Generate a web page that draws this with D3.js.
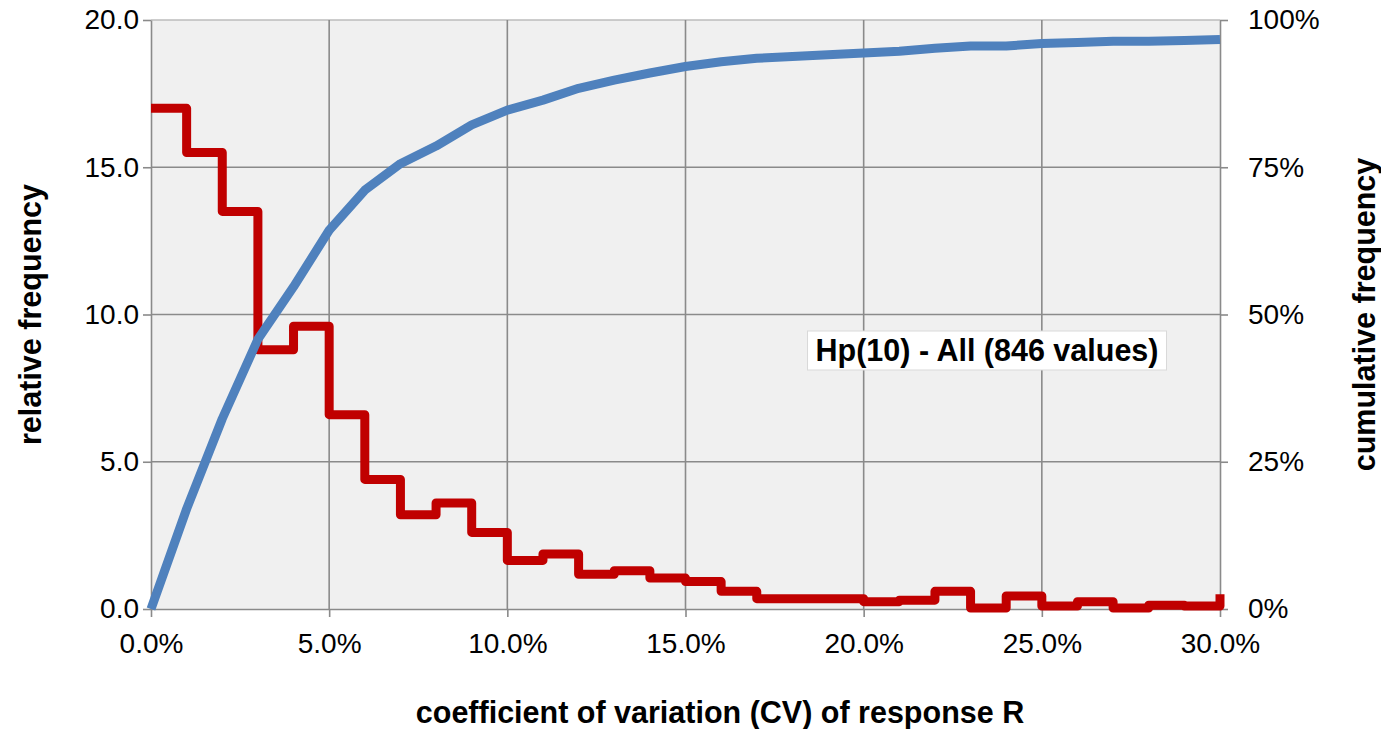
<!DOCTYPE html>
<html>
<head>
<meta charset="utf-8">
<script src="https://cdn.jsdelivr.net/npm/d3@7"></script>
<style>
  html, body { margin: 0; padding: 0; background: #ffffff; }
  svg { display: block; font-family: "Liberation Sans", Arial, sans-serif; }
</style>
</head>
<body>
<svg id="chart" width="1381" height="729"></svg>
<script>
// ---- data ----
const cvPercent = [0,1,2,3,4,5,6,7,8,9,10,11,12,13,14,15,16,17,18,19,20,21,22,23,24,25,26,27,28,29,30];
const relativeFrequency = [17.0,15.5,13.5,8.8,9.6,6.6,4.4,3.2,3.6,2.6,1.65,1.87,1.18,1.3,1.05,0.93,0.6,0.35,0.35,0.35,0.25,0.3,0.6,0.03,0.44,0.1,0.25,0.03,0.13,0.1,0.5];
const cumulativeFrequency = [0,17.0,32.3,45.8,54.7,64.3,71.1,75.6,78.6,82.2,84.7,86.4,88.4,89.8,91.0,92.1,92.9,93.5,93.8,94.1,94.4,94.7,95.2,95.6,95.6,96.0,96.2,96.4,96.4,96.5,96.7];
const xTicks = [0,5,10,15,20,25,30];
const yLeftTicks = [0,5,10,15,20];
const yRightTicks = [0,0.25,0.5,0.75,1];
const legendLabel = "Hp(10) - All (846 values)";
const xTitle = "coefficient of variation (CV) of response R";
const yLeftTitle = "relative frequency";
const yRightTitle = "cumulative frequency";

// ---- layout ----
const svg = d3.select("#chart");
const L = 151, R = 1220, T = 20, B = 609;
const x = d3.scaleLinear().domain([0,30]).range([L,R]);
const yL = d3.scaleLinear().domain([0,20]).range([B,T]);
const yR = d3.scaleLinear().domain([0,1]).range([B,T]);
const gridColor = "#8a8a8a";
const fs = 28;
const tfs = 30.5;

svg.append("rect").attr("x",L).attr("y",T).attr("width",R-L).attr("height",B-T).attr("fill","#f0f0f0");

// gridlines
svg.append("g").selectAll("line").data(yLeftTicks.filter(d=>d>0 && d<20)).join("line")
  .attr("x1",L).attr("x2",R).attr("y1",d=>yL(d)).attr("y2",d=>yL(d))
  .attr("stroke",gridColor).attr("stroke-width",1.6);
svg.append("line").attr("x1",L).attr("x2",R).attr("y1",T).attr("y2",T).attr("stroke","#bdbdbd").attr("stroke-width",1.6);
svg.append("g").selectAll("line").data(xTicks.filter(d=>d>0 && d<30)).join("line")
  .attr("x1",d=>x(d)).attr("x2",d=>x(d)).attr("y1",T).attr("y2",B)
  .attr("stroke",gridColor).attr("stroke-width",1.6);

// axes
function styleAxis(g){
  g.select(".domain").attr("stroke",gridColor).attr("stroke-width",1.6);
  g.selectAll(".tick line").attr("stroke",gridColor).attr("stroke-width",1.6);
  g.selectAll(".tick text").attr("font-size",fs).attr("fill","#000")
    .attr("font-family","'Liberation Sans', Arial, sans-serif");
}
svg.append("g").attr("transform",`translate(${L},0)`)
  .call(d3.axisLeft(yL).tickValues(yLeftTicks).tickFormat(d3.format(".1f")).tickSize(8).tickSizeOuter(0).tickPadding(4))
  .call(styleAxis);
svg.append("g").attr("transform",`translate(${R},0)`)
  .call(d3.axisRight(yR).tickValues(yRightTicks).tickFormat(d3.format(".0%")).tickSize(8).tickSizeOuter(0).tickPadding(20))
  .call(styleAxis);
svg.append("g").attr("transform",`translate(0,${B})`)
  .call(d3.axisBottom(x).tickValues(xTicks).tickFormat(d=>d.toFixed(1)+"%").tickSize(8).tickSizeOuter(0).tickPadding(16))
  .call(styleAxis);

// red step line (relative frequency)
const redLine = d3.line().x((d,i)=>x(cvPercent[i])).y(d=>yL(d)).curve(d3.curveStepAfter);
svg.append("path").datum(relativeFrequency).attr("d",redLine)
  .attr("fill","none").attr("stroke","#c00000").attr("stroke-width",9)
  .attr("stroke-linejoin","round").attr("stroke-linecap","butt");

// blue cumulative line
const blueLine = d3.line().x((d,i)=>x(cvPercent[i])).y(d=>yR(d/100));
svg.append("path").datum(cumulativeFrequency).attr("d",blueLine)
  .attr("fill","none").attr("stroke","#4f81bd").attr("stroke-width",9)
  .attr("stroke-linejoin","round").attr("stroke-linecap","butt");

// legend label box
const lg = svg.append("g");
const lt = lg.append("text").attr("x",987).attr("y",350).attr("text-anchor","middle")
  .attr("dominant-baseline","central").attr("font-size",tfs).attr("font-weight","bold").text(legendLabel);
const bb = lt.node().getBBox();
lg.insert("rect","text").attr("x",bb.x-8).attr("y",bb.y-2).attr("width",bb.width+16).attr("height",bb.height+4)
  .attr("fill","#ffffff").attr("stroke","#d9d9d9").attr("stroke-width",1);

// titles
svg.append("text").attr("x",720).attr("y",712).attr("text-anchor","middle")
  .attr("dominant-baseline","central").attr("font-size",tfs).attr("font-weight","bold").text(xTitle);
svg.append("text").attr("transform",`translate(30,${(T+B)/2}) rotate(-90)`).attr("text-anchor","middle")
  .attr("dominant-baseline","central").attr("font-size",tfs).attr("font-weight","bold").text(yLeftTitle);
svg.append("text").attr("transform",`translate(1364,${(T+B)/2}) rotate(-90)`).attr("text-anchor","middle")
  .attr("dominant-baseline","central").attr("font-size",tfs).attr("font-weight","bold").text(yRightTitle);
</script>
</body>
</html>
